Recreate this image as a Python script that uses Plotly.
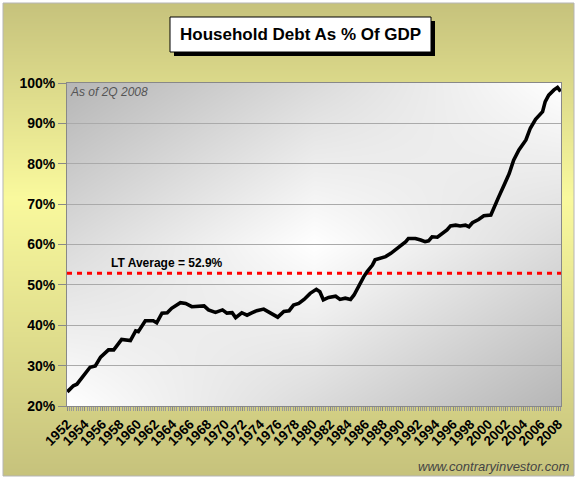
import plotly.graph_objects as go

# Household debt as % of GDP (decimal year, %)
YEARS = [1952.0, 1952.7, 1953.1, 1953.9, 1954.6, 1955.2, 1955.8, 1956.7, 1957.3, 1958.2,
         1959.2, 1959.8, 1960.1, 1960.9, 1961.8, 1962.2, 1962.8, 1963.4, 1963.9, 1964.9,
         1965.5, 1966.2, 1966.8, 1967.6, 1968.1, 1968.9, 1969.7, 1970.2, 1970.8, 1971.2,
         1971.9, 1972.5, 1973.1, 1973.6, 1974.4, 1975.2, 1976.0, 1976.7, 1977.3, 1977.8,
         1978.4, 1979.0, 1979.7, 1980.4, 1980.8, 1981.2, 1981.8, 1982.6, 1983.1, 1983.7,
         1984.3, 1984.7, 1985.2, 1985.8, 1986.2, 1986.8, 1987.1, 1987.7, 1988.3, 1988.9,
         1989.4, 1990.0, 1990.6, 1990.9, 1991.7, 1992.3, 1992.8, 1993.2, 1993.6, 1994.2,
         1994.8, 1995.3, 1995.7, 1996.3, 1996.8, 1997.4, 1997.8, 1998.2, 1998.9, 1999.5,
         2000.3, 2000.6, 2001.2, 2001.8, 2002.4, 2002.9, 2003.5, 2004.3, 2004.8, 2005.4,
         2006.2, 2006.5, 2006.9, 2007.5, 2007.9, 2008.25]
DEBT_PCT = [23.5, 25.0, 25.4, 27.7, 29.6, 29.9, 32.1, 33.9, 33.9, 36.5,
            36.2, 38.6, 38.4, 41.1, 41.1, 40.6, 43.0, 43.1, 44.2, 45.6,
            45.4, 44.6, 44.6, 44.8, 43.8, 43.2, 43.8, 43.0, 43.1, 41.9,
            43.1, 42.5, 43.1, 43.6, 44.0, 43.1, 42.0, 43.4, 43.6, 45.0,
            45.4, 46.4, 47.9, 48.9, 48.3, 46.3, 46.9, 47.2, 46.4, 46.7,
            46.4, 47.5, 49.6, 52.0, 53.3, 54.9, 56.2, 56.6, 57.0, 57.8,
            58.6, 59.6, 60.7, 61.5, 61.5, 61.1, 60.7, 60.9, 61.9, 61.8,
            62.8, 63.6, 64.6, 64.8, 64.6, 64.8, 64.4, 65.4, 66.2, 67.1,
            67.3, 69.0, 71.8, 74.7, 77.6, 80.9, 83.4, 85.9, 88.8, 91.0,
            92.9, 95.4, 97.0, 98.3, 98.9, 97.9]
LT_AVG = 52.9
TICK_YEARS = list(range(1952, 2009, 2))
TICK_PCTS = list(range(20, 101, 10))

W, H = 577, 480
FONT = "Liberation Sans, Arial, sans-serif"
X_RANGE = [1951.97, 2008.3]


def px(x):
    return x / W


def py(y):
    return 1 - y / H


PLOT_X = [px(67), px(561)]
PLOT_Y = [py(406), py(83)]

fig = go.Figure()

# outer olive/yellow vertical gradient
fig.add_trace(go.Heatmap(
    x=[0, 1], y=[0, 0.59, 1], z=[[0, 0], [1, 1], [0, 0]],
    colorscale=[[0, "#c6c27c"], [1, "#f9f99d"]], zsmooth="best",
    showscale=False, hoverinfo="skip", xaxis="x", yaxis="y"))

# plot-area grey/white diagonal gradient
fig.add_trace(go.Heatmap(
    x=[0, 0.5, 1], y=[0, 0.5, 1],
    z=[[1, 0.5, 0], [0.5, 1, 0.5], [0, 0.5, 1]],
    colorscale=[[0, "#b6b6b6"], [1, "#ffffff"]], zsmooth="best",
    showscale=False, hoverinfo="skip", xaxis="x2", yaxis="y2"))

# long-term average (dashed red)
fig.add_trace(go.Scatter(
    x=X_RANGE, y=[LT_AVG, LT_AVG], mode="lines",
    line=dict(color="#ff0000", width=3, dash="5px,5px"),
    hoverinfo="skip", xaxis="x3", yaxis="y3"))

fig.add_trace(go.Scatter(
    x=YEARS, y=DEBT_PCT, mode="lines",
    line=dict(color="black", width=3.6),
    xaxis="x3", yaxis="y3"))

hidden = dict(visible=False, range=[0, 1], fixedrange=True, showgrid=False, zeroline=False)
fig.update_layout(
    width=W, height=H, margin=dict(l=0, r=0, t=0, b=0),
    paper_bgcolor="white", plot_bgcolor="rgba(0,0,0,0)",
    showlegend=False, template="none",
    font=dict(family=FONT, color="black"),
    xaxis=dict(domain=[px(3), px(574)], **hidden),
    yaxis=dict(domain=[py(476), py(3)], **hidden),
    xaxis2=dict(domain=PLOT_X, anchor="y2", **hidden),
    yaxis2=dict(domain=PLOT_Y, anchor="x2", **hidden),
    xaxis3=dict(domain=PLOT_X, anchor="y3", range=X_RANGE, automargin=False,
                tickmode="array", tickvals=TICK_YEARS, ticktext=[str(y) for y in TICK_YEARS],
                tickangle=-45, ticks="outside", ticklen=4, tickcolor="#888",
                minor=dict(tick0=1952, dtick=0.25, ticks="outside", ticklen=4, tickcolor="#999"),
                tickfont=dict(family=FONT, size=13.5, weight="bold", color="black"),
                showgrid=False, zeroline=False, showline=True, linecolor="#888",
                linewidth=1, mirror=True),
    yaxis3=dict(domain=PLOT_Y, anchor="x3", range=[20, 100], automargin=False,
                tickmode="array", tickvals=TICK_PCTS, ticktext=[f"{v}%" for v in TICK_PCTS],
                ticks="outside", ticklen=8, tickcolor="#888",
                tickfont=dict(family=FONT, size=14, weight="bold", color="black"),
                showgrid=True, gridcolor="#aaaaaa", gridwidth=1, zeroline=False,
                showline=True, linecolor="#888", linewidth=1, mirror=True),
)

# title box with drop shadow, outer frame
fig.add_shape(type="rect", xref="paper", yref="paper",
              x0=px(174), x1=px(435), y0=py(56), y1=py(21),
              fillcolor="black", line=dict(width=0))
fig.add_shape(type="rect", xref="paper", yref="paper",
              x0=px(170), x1=px(431), y0=py(52), y1=py(17),
              fillcolor="white", line=dict(color="black", width=1))
fig.add_shape(type="rect", xref="paper", yref="paper",
              x0=px(3), x1=px(574), y0=py(476), y1=py(3),
              line=dict(color="#b5b5b5", width=1))

fig.add_annotation(text="<b>Household Debt As % Of GDP</b>", xref="paper", yref="paper",
                   x=px(300.5), y=py(34.5), xanchor="center", yanchor="middle",
                   showarrow=False, font=dict(family=FONT, size=17, color="black"))
fig.add_annotation(text="<i>As of 2Q 2008</i>", xref="paper", yref="paper",
                   x=px(68), y=py(92), xanchor="left", yanchor="middle",
                   showarrow=False, font=dict(family=FONT, size=12, color="#555"))
fig.add_annotation(text="<b>LT Average = 52.9%</b>", xref="x3", yref="y3",
                   x=1963.35, y=LT_AVG, xanchor="center", yanchor="bottom", yshift=1,
                   showarrow=False, font=dict(family=FONT, size=12, color="black"))
fig.add_annotation(text="<i>www.contraryinvestor.com</i>", xref="paper", yref="paper",
                   x=px(571), y=py(466), xanchor="right", yanchor="middle",
                   showarrow=False, font=dict(family=FONT, size=13, color="#444"))

# page body has a default 8px margin; drop it so the figure sits at the window corner
fig.write_html("out.html", config={"displayModeBar": False},
               post_script="document.body.style.margin='0';")
